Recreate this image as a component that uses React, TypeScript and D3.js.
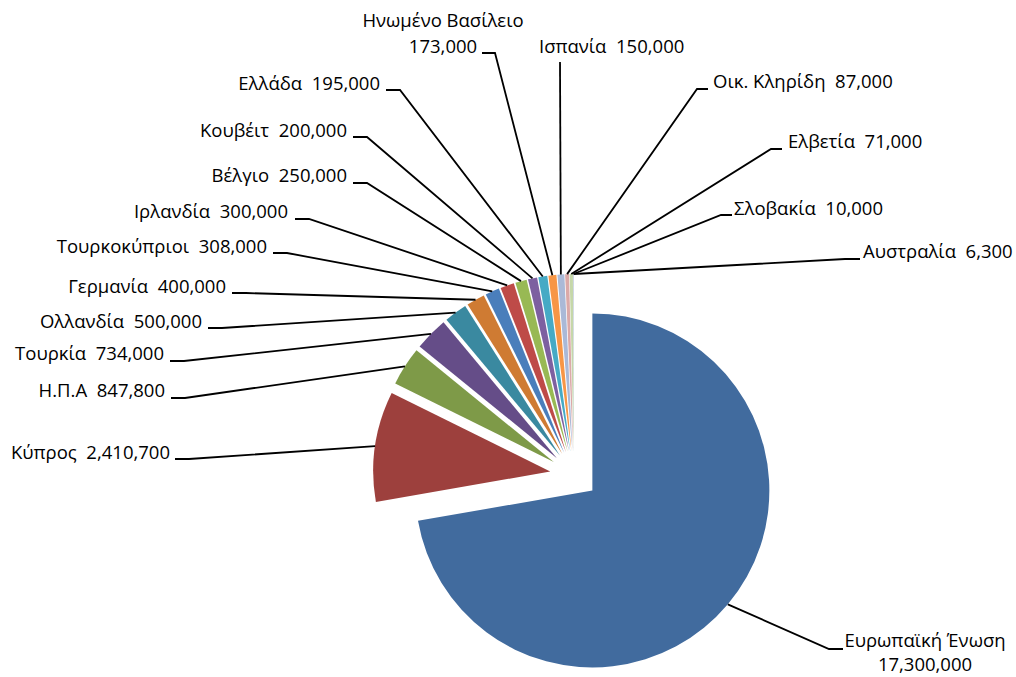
import React from "react";
import * as d3 from "d3";

const width = 1016;
const height = 677;
const center = { x: 574, y: 475 };
const radius = 177;
const explode = 24;

const countries = [
  "Ευρωπαϊκή Ένωση",
  "Κύπρος",
  "Η.Π.Α",
  "Τουρκία",
  "Ολλανδία",
  "Γερμανία",
  "Τουρκοκύπριοι",
  "Ιρλανδία",
  "Βέλγιο",
  "Κουβέιτ",
  "Ελλάδα",
  "Ηνωμένο Βασίλειο",
  "Ισπανία",
  "Οικ. Κληρίδη",
  "Ελβετία",
  "Σλοβακία",
  "Αυστραλία",
];
const values = [
  17300000, 2410700, 847800, 734000, 500000, 400000, 308000, 300000, 250000,
  200000, 195000, 173000, 150000, 87000, 71000, 10000, 6300,
];
const colors = [
  "#416B9E", "#9D403D", "#7E9A48", "#654D88", "#3A89A0", "#CF7B33",
  "#4A7EBB", "#BE4B48", "#98B954", "#7D60A0", "#46AAC5", "#F79646",
  "#AAB9D7", "#DBA9A8", "#C5D7A9", "#B8ABCB", "#A9D3E0",
];

// label layout: text x, baseline y, anchor, two lines?, leader attach point, elbow x
type Lbl = { x: number; y: number; a: "start" | "end" | "middle"; split?: number; lx: number; ly: number; ex?: number };
const labelLayout: Lbl[] = [
  { x: 925, y: 647, a: "middle", split: 24, lx: 843, ly: 649, ex: 829 },
  { x: 170, y: 459, a: "end", lx: 175, ly: 459, ex: 189 },
  { x: 165, y: 397, a: "end", lx: 171, ly: 398, ex: 185 },
  { x: 164, y: 360, a: "end", lx: 170, ly: 361, ex: 184 },
  { x: 202, y: 328, a: "end", lx: 208, ly: 328, ex: 222 },
  { x: 226, y: 293, a: "end", lx: 232, ly: 293, ex: 246 },
  { x: 267, y: 253, a: "end", lx: 273, ly: 253, ex: 287 },
  { x: 288, y: 218, a: "end", lx: 295, ly: 219, ex: 309 },
  { x: 347, y: 182, a: "end", lx: 353, ly: 183, ex: 367 },
  { x: 347, y: 137, a: "end", lx: 353, ly: 137, ex: 367 },
  { x: 380, y: 90, a: "end", lx: 386, ly: 90, ex: 400 },
  { x: 443, y: 27, a: "middle", split: 26, lx: 482, ly: 53, ex: 495 },
  { x: 539, y: 53, a: "start", lx: 560, ly: 62 },
  { x: 713, y: 88, a: "start", lx: 708, ly: 89, ex: 697 },
  { x: 788, y: 148, a: "start", lx: 782, ly: 149, ex: 771 },
  { x: 734, y: 215, a: "start", lx: 732, ly: 215, ex: 721 },
  { x: 863, y: 258, a: "start", lx: 860, ly: 259, ex: 845 },
];

const fmt = d3.format(",");
const font = "'Open Sans', 'Noto Sans', sans-serif";

export default function App() {
  const pie = d3.pie<number>().sort(null).value((d) => d);
  const arcs = pie(values);
  const arcGen = d3.arc<d3.PieArcDatum<number>>().innerRadius(0).outerRadius(radius);

  return (
    <div style={{ position: "absolute", left: 0, top: 0 }}>
      <svg width={width} height={height} style={{ display: "block", background: "#fff" }}>
        {arcs.map((a, i) => {
          const mid = (a.startAngle + a.endAngle) / 2;
          const dx = explode * Math.sin(mid);
          const dy = -explode * Math.cos(mid);
          return (
            <path
              key={countries[i]}
              d={arcGen(a) || ""}
              fill={colors[i]}
              transform={`translate(${center.x + dx},${center.y + dy})`}
            />
          );
        })}
        <g fill="none" stroke="#000" strokeWidth={1.8}>
          {arcs.map((a, i) => {
            const mid = (a.startAngle + a.endAngle) / 2;
            const rr = radius + explode;
            const px = center.x + rr * Math.sin(mid);
            const py = center.y - rr * Math.cos(mid);
            const l = labelLayout[i];
            const pts: [number, number][] = [[l.lx, l.ly]];
            if (l.ex !== undefined) pts.push([l.ex, l.ly]);
            pts.push([px, py]);
            return <path key={countries[i]} d={d3.line()(pts) || ""} />;
          })}
        </g>
        <g fontFamily={font} fontSize={18.5} fill="#000">
          {countries.map((c, i) => {
            const l = labelLayout[i];
            if (l.split) {
              return (
                <text key={c} x={l.x} y={l.y} textAnchor="middle">
                  <tspan x={l.x}>{c}</tspan>
                  <tspan x={l.x} dy={l.split}>{fmt(values[i])}</tspan>
                </text>
              );
            }
            return (
              <text key={c} x={l.x} y={l.y} textAnchor={l.a}>
                {`${c}\u00A0\u00A0${fmt(values[i])}`}
              </text>
            );
          })}
        </g>
      </svg>
    </div>
  );
}
